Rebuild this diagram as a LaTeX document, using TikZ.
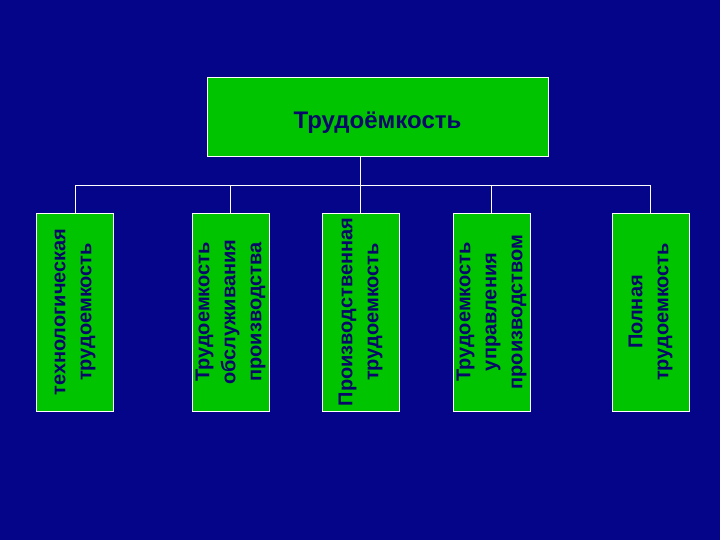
\documentclass[tikz,border=0pt]{standalone}
\usepackage{fontspec}
\setmainfont{Liberation Sans}
\usetikzlibrary{positioning,calc}
\definecolor{slideBlue}{RGB}{5,5,138}
\definecolor{boxGreen}{RGB}{0,196,0}
\definecolor{inkNavy}{RGB}{8,8,104}
\tikzset{
    headBox/.style={
        ,   rectangle
        ,   draw=white
        ,   fill=boxGreen
        ,   minimum width=341bp
        ,   minimum height=79bp
        ,   text height=26bp
        ,   text depth=2bp
        ,   text=inkNavy
        ,   font={\fontsize{24bp}{28bp}\selectfont\bfseries}
    },
    kindBox/.style={
        ,   rectangle
        ,   rotate=90
        ,   draw=white
        ,   fill=boxGreen
        ,   minimum width=198bp
        ,   minimum height=77bp
        ,   align=center
        ,   text=inkNavy
        ,   font={\fontsize{20bp}{26bp}\selectfont\bfseries}
    },
    treeLine/.style={
        ,   draw=white
        ,   line width=1bp
    }
}
\begin{document}
\begin{tikzpicture}[x=1bp, y=-1bp, inner sep=0pt]
	\fill[slideBlue] (0,0) rectangle (720,540); % slide background

	\node[headBox] (head) at (377.5,116.5) {Трудоёмкость};

	\foreach \i/\x/\txt in {1/75/{технологическая\\трудоемкость},
	                        2/230.5/{Трудоемкость\\обслуживания\\производства},
	                        3/360.5/{Производственная\\трудоемкость},
	                        4/491.5/{Трудоемкость\\управления\\производством},
	                        5/650.5/{Полная\\трудоемкость}}{
	\node[kindBox] (k\i) at (\x,312) {\txt};
	}

	\coordinate (bus) at (0,185.5); % height of the branch line
	\draw[treeLine] (k1.east |- bus) -- (k5.east |- bus);
	\draw[treeLine] (head.south -| k3.east) -- (k3.east);
	\foreach \i in {1,2,4,5}{
	\draw[treeLine] (k\i.east |- bus) -- (k\i.east);
	}
\end{tikzpicture}
\end{document}
